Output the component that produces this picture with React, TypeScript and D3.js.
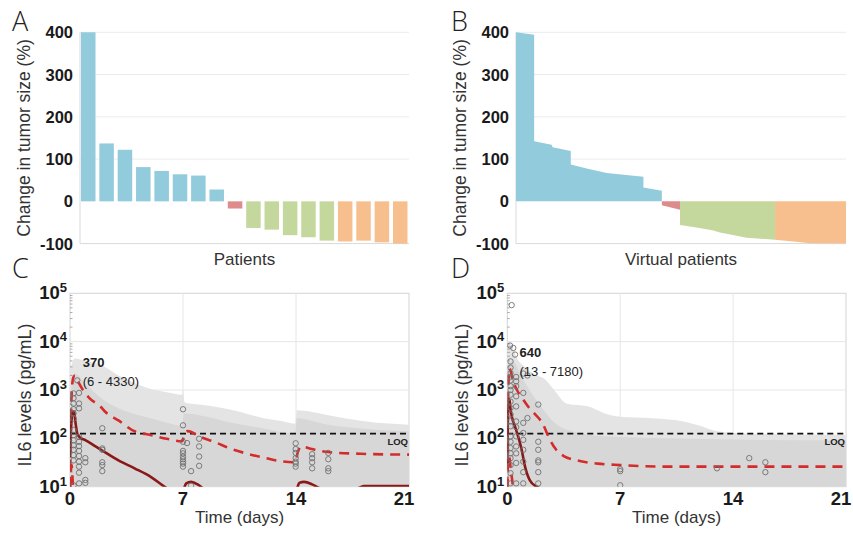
import React from "react";
import * as d3 from "d3";

// ---------------- Panel A: observed patients ----------------
const patientChange = [400, 137, 122, 81, 72, 64, 61, 28, -17, -63, -67, -80, -85, -93, -95, -93, -97, -100];
const patientGroup = ["PD", "PD", "PD", "PD", "PD", "PD", "PD", "PD", "SD", "PR", "PR", "PR", "PR", "PR", "CR", "CR", "CR", "CR"];
const groupColor: Record<string, string> = { PD: "#92cbdc", SD: "#de8b8b", PR: "#c4d89d", CR: "#f7bf8d" };
const changeTicks = [400, 300, 200, 100, 0, -100];

// ---------------- Panel B: virtual patients (percentile of population, change %) ----------------
const vpPD_x = [0, 5.5, 5.5, 10.8, 11.1, 16.6, 16.6, 21.4, 27.5, 38.6, 38.6, 44.2];
const vpPD_y = [400, 394, 142, 134, 128, 119, 87, 78, 67, 58, 33, 25];
const vpSD_x = [44.2, 49.7];
const vpSD_y = [-9, -20];
const vpPR_x = [49.7, 54.7, 59.8, 61.8, 69.9, 78.5];
const vpPR_y = [-56, -62, -69, -74, -86, -91];
const vpCR_x = [78.5, 84, 89.1, 100];
const vpCR_y = [-91, -95, -99, -100];

// ---------------- Panel C: IL6, observed ----------------
const timeTicks = [0, 7, 14, 21];
const il6Exps = [1, 2, 3, 4, 5];
const LOQ = 125;

const cEnvOuterT = [0, 0.3, 1, 2, 3, 4, 5, 6, 6.95, 7.0, 7.1, 7.5, 8, 9, 10, 11, 12, 13, 13.95, 14.05, 15, 16, 17, 18, 19, 20, 21];
const cEnvOuterV = [2500, 4500, 4000, 3200, 2000, 1400, 1050, 900, 800, 1000, 560, 520, 500, 450, 390, 320, 260, 230, 200, 380, 350, 300, 260, 230, 210, 200, 190];
const cEnvInnerT = [0, 0.3, 1, 2, 3, 4, 5, 6, 6.95, 7.05, 8, 10, 12, 13.95, 14.05, 16, 18, 21];
const cEnvInnerV = [700, 2200, 1300, 650, 420, 320, 260, 210, 180, 330, 300, 210, 160, 125, 260, 190, 160, 140];

const cUpperT = [0, 0.05, 0.1, 0.2, 0.3, 0.45, 0.8, 1.2, 1.9, 2.2, 3, 4, 5, 6, 6.95, 7.1, 7.3, 8, 9, 10, 11, 12, 13, 13.95, 14.1, 14.3, 15, 16, 18, 21];
const cUpperV = [10, 200, 800, 1800, 2000, 1600, 1000, 680, 450, 350, 235, 140, 117, 98, 87, 126, 141, 110, 83, 60, 48, 40, 34, 32, 50, 68, 60, 52, 48, 46];
const cLowerT = [0, 0.05, 0.1, 0.15, 0.2];
const cLowerV = [9, 20, 28, 16, 8];
const cMedianT = [0, 0.1, 0.18, 0.25, 0.35, 0.45, 0.6, 1, 1.5, 2, 3, 4, 5, 5.8, 6.3, 6.9, 7.05, 7.2, 7.5, 7.9, 8.2, 9, 13.5, 14.05, 14.2, 14.5, 15, 15.4, 16, 17.5, 18, 18.2, 21];
const cMedianV = [40, 250, 360, 355, 200, 125, 105, 90, 71, 56, 35, 24, 16, 10.3, 8, 7, 9, 11.7, 12.6, 11.2, 9.5, 7, 7, 9, 12, 12.6, 11.2, 9.5, 8, 8.5, 9.8, 10.3, 10.3];

const cObsT = [
  0.45,
  0.22, 0.22, 0.22, 0.22, 0.22, 0.22, 0.22, 0.22, 0.22, 0.22, 0.22, 0.22, 0.22, 0.22,
  0.56, 0.56, 0.56, 0.56, 0.56, 0.56, 0.56, 0.56, 0.56, 0.56, 0.56, 0.56,
  0.95, 0.95, 0.95, 0.95,
  2, 2, 2, 2, 2, 2,
  7, 7, 7, 7, 7, 7, 7, 7, 7, 7, 7.25, 7.5, 7.5,
  8, 8, 8, 8,
  13.98, 13.98, 13.98, 13.98, 13.98, 13.98, 13.98,
  15, 15, 15, 15,
  16, 16, 16, 16,
];
const cObsV = [
  1580,
  850, 680, 525, 400, 330, 257, 148, 117, 91, 72, 58, 45, 35, 10.7,
  870, 525, 417, 107, 85, 69, 55, 43, 33, 26, 19.5, 11.7,
  39, 32, 13.8, 12,
  162, 62, 58, 32, 28, 21,
  400, 186, 85, 55, 49, 42, 37, 33, 30, 26, 80, 21, 10.5,
  98, 68, 42, 27,
  79, 60, 50, 39, 33, 30, 26,
  47, 39, 32, 24,
  50, 37, 24, 21,
];

// ---------------- Panel D: IL6, virtual population ----------------
const dEnvOuterT = [0, 0.3, 0.6, 1, 1.6, 2.4, 2.9, 3.7, 5, 6, 7, 9, 11, 12, 13, 15, 21];
const dEnvOuterV = [10000, 8000, 4500, 3200, 2200, 1600, 1000, 520, 460, 330, 280, 260, 220, 180, 140, 125, 118];
const dEnvInnerT = [0, 0.3, 1, 2, 3, 4, 6, 10, 21];
const dEnvInnerV = [3000, 4000, 1600, 500, 200, 140, 110, 100, 90];

const dUpperT = [0, 0.03, 0.08, 0.13, 0.2, 0.35, 0.6, 0.9, 1.3, 1.7, 2.2, 2.6, 3.0, 3.5, 4.5, 5.6, 7, 10, 14, 21];
const dUpperV = [10, 300, 1600, 2800, 2500, 1600, 1000, 700, 450, 320, 200, 100, 60, 43, 34, 30, 28, 26, 26, 26];
const dLowerT = [0, 0.05, 0.12, 0.2, 0.3, 0.36];
const dLowerV = [9, 40, 42, 25, 14, 9];
const dMedianT = [0, 0.04, 0.1, 0.14, 0.2, 0.3, 0.48, 0.68, 0.89, 1.1, 1.4, 1.82, 2.1];
const dMedianV = [30, 400, 640, 600, 400, 265, 174, 107, 58, 26, 13.5, 10, 9];

const dObsT = [
  0.27, 0.17, 0.37, 0.48,
  0.2, 0.2, 0.2, 0.2, 0.2, 0.2, 0.2, 0.2, 0.2, 0.2, 0.2, 0.2, 0.2, 0.2, 0.2, 0.2, 0.2, 0.2, 0.2, 0.2, 0.2,
  0.55, 0.55, 0.55, 0.55, 0.55, 0.55, 0.55, 0.55, 0.55, 0.55, 0.55, 0.55,
  0.99, 0.99, 0.99, 0.99, 0.99, 0.99, 0.99, 0.99, 0.99,
  1.25, 1.25,
  1.92, 1.92, 1.92, 1.92, 1.92, 1.92, 1.92,
  7, 7, 7, 13, 15, 16, 16,
];
const dObsV = [
  57000, 8300, 7400, 5400,
  3900, 2900, 2240, 1860, 1580, 1200, 1000, 800, 575, 425, 310, 225, 178, 110, 85, 63, 49, 39, 28, 19, 11.7,
  1860, 1510, 1200, 740, 457, 224, 170, 110, 68, 49, 31, 11.7,
  2190, 870, 209, 129, 93, 58, 33, 20, 11.7,
  2000, 263,
  500, 85, 58, 35, 32, 20, 11.7,
  23, 21, 10.7, 24, 39, 32, 20,
];

const FONT = "'Liberation Sans', Arial, Helvetica, sans-serif";
const zip = (a: number[], b: number[]) => a.map((v, i) => [v, b[i]] as [number, number]);

// ---------- layout ----------
const yChange = d3.scaleLinear().domain([-100, 400]).range([243.6, 32.3]);
const ilY = d3.scaleLog().domain([10, 1e5]).range([486.7, 293.3]);

function WaterfallFrame({ x0, x1, title }: { x0: number; x1: number; title: string }) {
  return (
    <g>
      {changeTicks.filter((t) => t > 0).map((t) => (
        <line key={t} x1={x0} x2={x1} y1={yChange(t)} y2={yChange(t)} stroke="#ececec" strokeWidth={1} />
      ))}
      <line x1={x0} x2={x0} y1={yChange(400)} y2={yChange(-100)} stroke="#d9d9d9" strokeWidth={1} />
      <line x1={x0} x2={x1} y1={yChange(-100)} y2={yChange(-100)} stroke="#d9d9d9" strokeWidth={1} />
      {changeTicks.map((t) => (
        <text key={t} x={x0 - 7} y={yChange(t) + 6} textAnchor="end" fontWeight="bold" fontSize={16.5} fill="#1a1a1a" fontFamily={FONT}>
          {t}
        </text>
      ))}
      <text
        transform={`translate(${x0 - 50},${(yChange(400) + yChange(-100)) / 2}) rotate(-90)`}
        textAnchor="middle"
        fontSize={17.5}
        fill="#333"
        fontFamily={FONT}
      >
        Change in tumor size (%)
      </text>
      <text x={(x0 + x1) / 2} y={265} textAnchor="middle" fontSize={17} fill="#333" fontFamily={FONT}>
        {title}
      </text>
    </g>
  );
}

function PanelA() {
  const x0 = 80, x1 = 409;
  const band = d3.scaleBand<number>().domain(patientChange.map((_, i) => i)).range([81, 407.5]).paddingInner(0.21).paddingOuter(0);
  return (
    <g>
      <WaterfallFrame x0={x0} x1={x1} title="Patients" />
      {patientChange.map((v, i) => (
        <rect
          key={i}
          x={band(i)}
          width={band.bandwidth()}
          y={Math.min(yChange(v), yChange(0))}
          height={Math.abs(yChange(v) - yChange(0))}
          fill={groupColor[patientGroup[i]]}
        />
      ))}
    </g>
  );
}

function PanelB() {
  const x0 = 516, x1 = 846;
  const x = d3.scaleLinear().domain([0, 100]).range([x0, x1]);
  const area = d3
    .area<[number, number]>()
    .x((d) => x(d[0]))
    .y0(yChange(0))
    .y1((d) => yChange(d[1]));
  const groups: [string, number[], number[]][] = [
    ["PD", vpPD_x, vpPD_y],
    ["SD", vpSD_x, vpSD_y],
    ["PR", vpPR_x, vpPR_y],
    ["CR", vpCR_x, vpCR_y],
  ];
  return (
    <g>
      <WaterfallFrame x0={x0} x1={x1} title="Virtual patients" />
      {groups.map(([g, xs, ys]) => (
        <path key={g} d={area(zip(xs, ys)) || ""} fill={groupColor[g]} />
      ))}
    </g>
  );
}

type IlProps = {
  id: string;
  x0: number;
  x1: number;
  outerT: number[]; outerV: number[];
  innerT: number[]; innerV: number[];
  upperT: number[]; upperV: number[];
  lowerT: number[]; lowerV: number[];
  medT: number[]; medV: number[];
  obsT: number[]; obsV: number[];
  median: string; range: string;
  annX: number; annY: number;
};

function IL6Panel(p: IlProps) {
  const x = d3.scaleLinear().domain([0, 21]).range([p.x0, p.x1]);
  const yTop = ilY(1e5), yBot = ilY(10);
  const area = d3
    .area<[number, number]>()
    .x((d) => x(d[0]))
    .y0(yBot)
    .y1((d) => ilY(d[1]))
    .curve(d3.curveMonotoneX);
  const line = d3
    .line<[number, number]>()
    .x((d) => x(d[0]))
    .y((d) => ilY(d[1]))
    .curve(d3.curveMonotoneX);
  const minor: number[] = [];
  for (let e = 1; e < 5; e++) for (let m = 2; m < 10; m++) minor.push(m * 10 ** e);
  return (
    <g>
      <defs>
        <clipPath id={p.id}>
          <rect x={p.x0} y={yTop} width={p.x1 - p.x0} height={yBot - yTop} />
        </clipPath>
      </defs>
      <rect x={p.x0} y={yTop} width={p.x1 - p.x0} height={yBot - yTop} fill="#fff" stroke="#d4d4d4" strokeWidth={1} />
      {[100, 1000, 10000].map((v) => (
        <line key={v} x1={p.x0} x2={p.x1} y1={ilY(v)} y2={ilY(v)} stroke="#e6e6e6" strokeWidth={1} />
      ))}
      {[7, 14].map((t) => (
        <line key={t} x1={x(t)} x2={x(t)} y1={yTop} y2={yBot} stroke="#e6e6e6" strokeWidth={1} />
      ))}
      <g clipPath={`url(#${p.id})`}>
        <path d={area(zip(p.outerT, p.outerV)) || ""} fill="#e4e4e4" />
        <path d={area(zip(p.innerT, p.innerV)) || ""} fill="#d7d7d7" />
        <line x1={p.x0} x2={p.x1} y1={ilY(LOQ)} y2={ilY(LOQ)} stroke="#111" strokeWidth={1.6} strokeDasharray="6 4" />
        <path d={line(zip(p.upperT, p.upperV)) || ""} fill="none" stroke="#d42b2b" strokeWidth={2.6} strokeDasharray="10 7" />
        <path d={line(zip(p.lowerT, p.lowerV)) || ""} fill="none" stroke="#d42b2b" strokeWidth={2.6} strokeDasharray="10 7" />
        <path d={line(zip(p.medT, p.medV)) || ""} fill="none" stroke="#8b1818" strokeWidth={2.6} />
        {p.obsT.map((t, i) => (
          <circle key={i} cx={x(t)} cy={ilY(p.obsV[i])} r={2.7} fill="none" stroke="#707070" strokeWidth={0.9} />
        ))}
      </g>
      {minor.map((v) => (
        <line key={v} x1={p.x0} x2={p.x0 + 2.5} y1={ilY(v)} y2={ilY(v)} stroke="#777" strokeWidth={0.6} />
      ))}
      <text x={p.x1 - 1} y={ilY(LOQ) + 11} textAnchor="end" fontSize={9.5} fontWeight="bold" fill="#222" fontFamily={FONT}>
        LOQ
      </text>
      <text x={p.annX} y={p.annY} fontSize={13} fontWeight="bold" fill="#222" fontFamily={FONT}>
        {p.median}
      </text>
      <text x={p.annX} y={p.annY + 19} fontSize={13} fill="#222" fontFamily={FONT}>
        {p.range}
      </text>
      {il6Exps.map((e) => (
        <text key={e} x={p.x0 - 3} y={ilY(10 ** e) + 6} textAnchor="end" fontWeight="bold" fontSize={18.5} fill="#1a1a1a" fontFamily={FONT}>
          10
          <tspan dy={-7} fontSize={13}>
            {e}
          </tspan>
        </text>
      ))}
      {timeTicks.map((t, i) => (
        <text
          key={t}
          x={i === timeTicks.length - 1 ? x(t) - 5 : x(t)}
          y={505}
          textAnchor="middle"
          fontWeight="bold"
          fontSize={18.5}
          fill="#1a1a1a"
          fontFamily={FONT}
        >
          {t}
        </text>
      ))}
      <text x={(p.x0 + p.x1) / 2} y={523} textAnchor="middle" fontSize={17} fill="#333" fontFamily={FONT}>
        Time (days)
      </text>
      <text
        transform={`translate(${p.x0 - 39},${(yTop + yBot) / 2 + 5}) rotate(-90)`}
        textAnchor="middle"
        fontSize={18}
        fill="#333"
        fontFamily={FONT}
      >
        IL6 levels (pg/mL)
      </text>
    </g>
  );
}

export default function App() {
  const letter = (t: string, x: number, y: number) => (
    <text x={x} y={y} fontSize={27} fill="#222" fontFamily="'Open Sans', 'Liberation Sans', sans-serif" fontWeight={300}>
      {t}
    </text>
  );
  return (
    <svg width={853} height={534} viewBox="0 0 853 534" style={{ position: "absolute", left: 0, top: 0, background: "#fff" }}>
      <rect width={853} height={534} fill="#fff" />
      <PanelA />
      <PanelB />
      <IL6Panel
        id="clipC"
        x0={70}
        x1={409}
        outerT={cEnvOuterT} outerV={cEnvOuterV}
        innerT={cEnvInnerT} innerV={cEnvInnerV}
        upperT={cUpperT} upperV={cUpperV}
        lowerT={cLowerT} lowerV={cLowerV}
        medT={cMedianT} medV={cMedianV}
        obsT={cObsT} obsV={cObsV}
        median="370" range="(6 - 4330)"
        annX={82.7} annY={367}
      />
      <IL6Panel
        id="clipD"
        x0={507.3}
        x1={846}
        outerT={dEnvOuterT} outerV={dEnvOuterV}
        innerT={dEnvInnerT} innerV={dEnvInnerV}
        upperT={dUpperT} upperV={dUpperV}
        lowerT={dLowerT} lowerV={dLowerV}
        medT={dMedianT} medV={dMedianV}
        obsT={dObsT} obsV={dObsV}
        median="640" range="(13 - 7180)"
        annX={519.5} annY={356.5}
      />
      {letter("A", 12, 31)}
      {letter("B", 451, 31)}
      {letter("C", 12, 278)}
      {letter("D", 451, 278)}
    </svg>
  );
}
